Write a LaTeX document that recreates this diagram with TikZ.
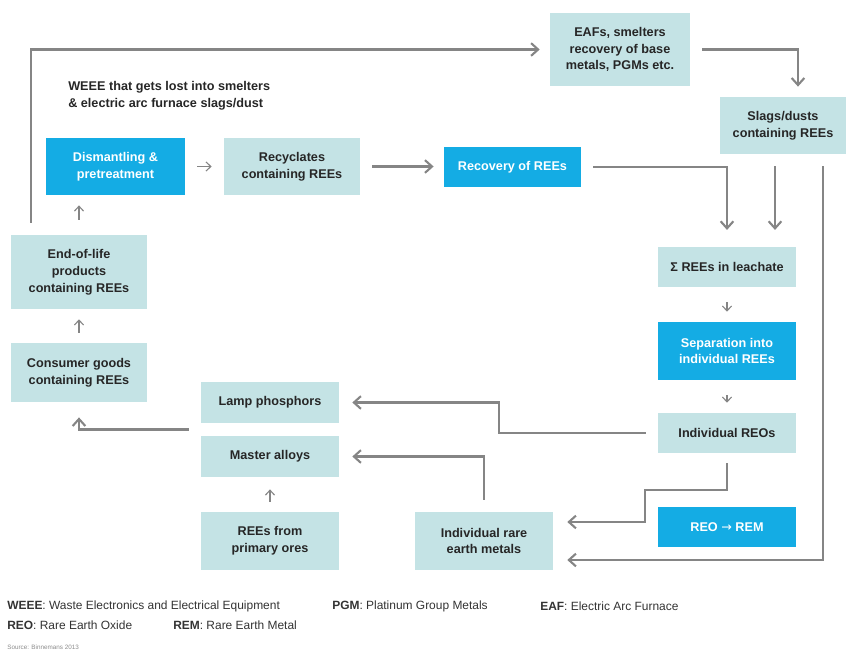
\documentclass[tikz,border=0pt]{standalone}
\usepackage{fontspec}
\setmainfont{Liberation Sans}
\newfontfamily\arrowfont{DejaVu Sans}
\usetikzlibrary{arrows.meta,calc}
\definecolor{boxlight}{HTML}{C4E3E5}
\definecolor{boxblue}{HTML}{14ACE4}
\definecolor{linegray}{HTML}{858585}
\tikzset{
	pbox/.style={fill=boxlight,text=black!85,font=\fontsize{9}{12}\selectfont\bfseries,align=center,inner sep=0pt},
	bbox/.style={pbox,fill=boxblue,text=white},
	flow/.style={draw=linegray,line width=1.5pt,-{Straight Barb[length=5pt,width=9pt]},shorten <=0.3cm,shorten >=0.25cm},
	tick/.style={draw=linegray,line width=0.8pt,-{Straight Barb[length=3.5pt,width=6.5pt]},shorten <=0.375cm,shorten >=0.25cm},
	legend/.style={anchor=west,inner sep=0pt,text=black!80,font=\fontsize{8.5}{11}\selectfont}
}
\begin{document}
\begin{tikzpicture}[x=0.025cm,y=-0.025cm]
	\useasboundingbox (0,0) rectangle (846,662);
	\node[pbox,minimum width=3.5cm,minimum height=1.83cm] (eaf) at (620,49.5) {EAFs, smelters\\recovery of base\\metals, PGMs etc.};
	\node[pbox,minimum width=3.15cm,minimum height=1.43cm] (slags) at (783,125.5) {Slags/dusts\\containing REEs};
	\node[bbox,minimum width=3.48cm,minimum height=1.43cm] (dism) at (115.5,166.5) {Dismantling \&\\pretreatment};
	\node[pbox,minimum width=3.4cm,minimum height=1.43cm] (recyc) at (292,166.5) {Recyclates\\containing REEs};
	\node[bbox,minimum width=3.43cm,minimum height=1cm] (recov) at (512.5,167) {Recovery of REEs};
	\node[pbox,minimum width=3.45cm,minimum height=1cm] (leach) at (727,267) {Σ REEs in leachate};
	\node[bbox,minimum width=3.45cm,minimum height=1.45cm] (sep) at (727,351) {Separation into\\individual REEs};
	\node[pbox,minimum width=3.45cm,minimum height=1cm] (reos) at (727,433) {Individual REOs};
	\node[bbox,minimum width=3.45cm,minimum height=1cm] (reorem) at (727,527) {REO {\arrowfont\mdseries →} REM};
	\node[pbox,minimum width=3.4cm,minimum height=1.85cm] (eol) at (79,272) {End-of-life\\products\\containing REEs};
	\node[pbox,minimum width=3.4cm,minimum height=1.48cm] (cons) at (79,372.5) {Consumer goods\\containing REEs};
	\node[pbox,minimum width=3.45cm,minimum height=1.03cm] (lamp) at (270,402.5) {Lamp phosphors};
	\node[pbox,minimum width=3.45cm,minimum height=1.03cm] (master) at (270,456.5) {Master alloys};
	\node[pbox,minimum width=3.45cm,minimum height=1.45cm] (ores) at (270,541) {REEs from\\primary ores};
	\node[pbox,minimum width=3.45cm,minimum height=1.45cm] (irem) at (484,541) {Individual rare\\earth metals};
	\node[pbox,fill=none,anchor=west,align=left] (lost) at (68,95.5) {WEEE that gets lost into smelters\\\& electric arc furnace slags/dust};
	\draw[flow] ([xshift=0.5cm]eol.north west) |- (eaf.west);
	\draw[flow] (eaf.east) -| ([xshift=0.375cm]slags.north);
	\draw[tick,shorten <=0.3cm,shorten >=0.3cm] (dism) -- (recyc);
	\draw[flow] (recyc.east) -- (recyc.east -| recov.west);
	\draw[flow,shorten >=0.42cm] (recov.east) -| (leach.north);
	\draw[flow,shorten >=0.42cm] ([xshift=-0.2cm]slags.south) -- ([xshift=-0.2cm]slags.south |- leach.north);
	\draw[flow,shorten >=0.35cm] ([xshift=1cm]slags.south) |- ([yshift=-0.475cm]irem.east);
	\draw[tick] (leach) -- (sep);
	\draw[tick] (sep) -- (reos);
	\draw[flow,shorten >=0.325cm] (reos.west) -| (499,420) |- (lamp.east);
	\draw[flow,shorten <=0.25cm,shorten >=0.35cm] (reos.south) |- (645,490) |- ([yshift=0.475cm]irem.east);
	\draw[flow,shorten >=0.325cm] (irem.north) |- (master.east);
	\draw[tick,shorten <=0.25cm,shorten >=0.3cm] (ores) -- (master);
	\draw[flow,shorten >=0.375cm] ($(lamp.south west)!0.5!(master.north west)$) -| (cons.south);
	\draw[tick,shorten <=0.25cm] (cons) -- (eol);
	\draw[tick] (eol.north) -- (eol.north |- dism.south);
	\node[legend] (weee) at (7,606) {\textbf{WEEE}: Waste Electronics and Electrical Equipment};
	\node[legend] (pgm) at (332,606) {\textbf{PGM}: Platinum Group Metals};
	\node[legend] (eafl) at (540,606) {\textbf{EAF}: Electric Arc Furnace};
	\node[legend] (reo) at (7,625) {\textbf{REO}: Rare Earth Oxide};
	\node[legend] (rem) at (173,625) {\textbf{REM}: Rare Earth Metal};
	\node[legend,text=black!45,font=\fontsize{4.5}{6}\selectfont] (src) at (7,647) {Source: Binnemans 2013};
\end{tikzpicture}
\end{document}
